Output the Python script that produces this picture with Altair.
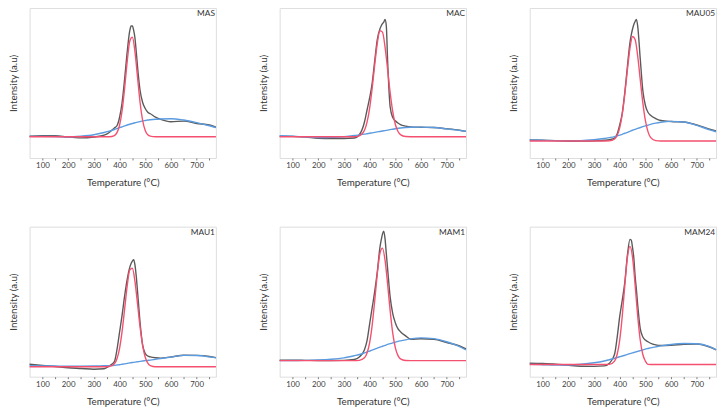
import altair as alt
import pandas as pd

# temperature grids (°C)
temps_fit = [50, 100, 150, 200, 250, 300, 340, 360, 380, 390, 400, 410, 420, 430, 440,
             450, 460, 470, 480, 490, 500, 510, 520, 540, 560, 600, 650, 700, 750, 775]
temps_obs = [50, 100, 150, 200, 250, 300, 340, 360, 380, 390, 400, 410, 420, 430, 440, 445,
             450, 455, 460, 465, 470, 480, 490, 500, 510, 520, 540, 560, 600, 650, 700, 750, 775]

samples = ["MAS", "MAC", "MAU05", "MAU1", "MAM1", "MAM24"]

# measured signal (black), on temps_obs
total_MAS = [14.6, 14.8, 14.9, 13.9, 13.4, 14.0, 15.2, 17.0, 20.0, 21.5, 27.0, 37.0, 53.0, 71.0, 85.0, 88.0,
             88.0, 85.0, 80.0, 71.0, 61.0, 45.0, 37.0, 33.0, 30.5, 29.5, 27.2, 25.8, 24.2, 24.6, 23.0, 22.0, 20.5]
total_MAC = [14.6, 14.4, 14.0, 13.2, 13.0, 13.0, 13.3, 15.5, 24.0, 32.0, 40.0, 50.0, 65.0, 79.0, 86.0, 88.0,
             89.5, 90.5, 92.3, 88.0, 65.0, 34.0, 27.0, 24.8, 23.3, 22.3, 21.3, 20.7, 20.5, 20.3, 19.5, 18.5, 17.8]
total_MAU05 = [12.0, 11.8, 11.6, 11.2, 11.3, 11.5, 11.8, 12.2, 13.2, 16.0, 22.0, 30.0, 44.0, 61.0, 77.0, 82.0,
               86.0, 89.0, 91.0, 92.4, 88.0, 66.0, 45.0, 35.0, 30.5, 28.5, 26.3, 25.0, 24.3, 24.0, 22.0, 19.2, 18.0]
total_MAU1 = [8.3, 7.5, 6.8, 6.0, 5.5, 5.0, 5.3, 7.2, 10.0, 18.0, 29.5, 41.0, 54.0, 65.0, 73.0, 75.5,
              77.0, 78.0, 74.5, 67.0, 57.0, 36.0, 21.0, 15.5, 13.8, 13.2, 12.6, 12.4, 13.2, 14.3, 14.2, 13.5, 12.7]
total_MAM1 = [11.0, 11.0, 10.9, 10.8, 10.8, 10.9, 11.5, 13.2, 18.0, 24.0, 35.0, 46.0, 57.0, 70.0, 86.0, 91.0,
              95.0, 97.0, 92.0, 82.0, 72.0, 53.0, 42.0, 36.0, 32.0, 30.0, 27.2, 25.0, 25.3, 25.0, 22.8, 20.5, 18.5]
total_MAM24 = [9.0, 8.8, 8.4, 7.6, 7.0, 6.9, 7.2, 9.0, 15.0, 26.0, 40.0, 51.0, 63.0, 81.0, 91.5, 91.0,
               86.0, 79.0, 67.0, 58.0, 48.0, 32.0, 26.5, 24.4, 23.3, 22.3, 21.2, 20.8, 21.0, 21.6, 21.8, 19.8, 17.9]

# fitted low-temperature peak (red), on temps_fit
peak_MAS = [14.2, 14.2, 14.2, 14.2, 14.2, 14.2, 14.2, 14.2, 15.0, 16.9, 21.8, 31.5, 46.8, 64.6, 78.0,
            80.6, 70.9, 53.9, 37.0, 25.0, 18.4, 15.5, 14.6, 14.2, 14.2, 14.2, 14.2, 14.2, 14.2, 14.2]
peak_MAC = [14.2, 14.2, 14.2, 14.2, 14.2, 14.2, 14.2, 14.8, 18.5, 23.9, 33.1, 46.5, 62.3, 76.6, 84.8,
            83.9, 74.1, 59.1, 43.5, 30.9, 22.5, 17.8, 15.6, 14.3, 14.2, 14.2, 14.2, 14.2, 14.2, 14.2]
peak_MAU05 = [11.3, 11.3, 11.3, 11.3, 11.3, 11.3, 11.3, 11.4, 12.7, 15.0, 20.1, 29.2, 42.7, 58.8, 73.3,
              81.0, 79.0, 68.0, 52.2, 36.8, 25.0, 17.6, 13.8, 11.6, 11.3, 11.3, 11.3, 11.3, 11.3, 11.3]
peak_MAU1 = [6.6, 6.6, 6.6, 6.6, 6.6, 6.6, 6.6, 6.8, 8.6, 12.0, 18.8, 30.2, 45.3, 60.8, 71.2,
             72.3, 63.5, 48.6, 33.0, 20.7, 13.0, 9.1, 7.4, 6.6, 6.6, 6.6, 6.6, 6.6, 6.6, 6.6]
peak_MAM1 = [10.7, 10.7, 10.7, 10.7, 10.7, 10.7, 10.7, 10.9, 12.6, 15.8, 22.6, 34.4, 50.9, 68.7, 82.1,
             85.7, 77.7, 61.8, 43.9, 29.0, 19.4, 14.2, 11.9, 10.8, 10.7, 10.7, 10.7, 10.7, 10.7, 10.7]
peak_MAM24 = [8.1, 8.1, 8.1, 8.1, 8.1, 8.1, 8.1, 8.2, 10.4, 14.8, 24.3, 40.5, 61.2, 79.5, 86.9,
              79.5, 61.2, 40.5, 24.3, 14.8, 10.4, 8.2, 8.1, 8.1, 8.1, 8.1, 8.1, 8.1, 8.1, 8.1]

# fitted broad high-temperature component (blue), on temps_fit
broad_MAS = [14.4, 14.4, 14.3, 14.0, 14.5, 15.5, 17.0, 17.9, 19.0, 19.6, 20.2, 20.8, 21.4, 22.0, 22.5,
             23.0, 23.5, 23.9, 24.3, 24.7, 25.0, 25.3, 25.5, 25.8, 26.0, 26.2, 25.3, 23.6, 21.5, 20.2]
broad_MAC = [14.8, 14.6, 14.0, 13.6, 13.8, 14.2, 15.0, 15.4, 15.9, 16.2, 16.5, 16.8, 17.1, 17.4, 17.7,
             18.0, 18.3, 18.6, 18.9, 19.2, 19.5, 19.8, 20.0, 20.3, 20.5, 20.6, 20.3, 19.4, 18.4, 17.8]
broad_MAU05 = [12.0, 11.8, 11.6, 11.5, 11.6, 12.2, 13.0, 13.6, 14.3, 14.8, 15.3, 15.8, 16.5, 17.1, 17.8,
               18.5, 19.1, 19.7, 20.3, 20.9, 21.4, 21.9, 22.4, 23.2, 23.8, 24.4, 24.0, 21.7, 18.8, 17.5]
broad_MAU1 = [7.4, 7.2, 7.1, 7.0, 7.0, 7.1, 7.3, 7.4, 7.6, 7.8, 8.0, 8.3, 8.6, 8.9, 9.2,
              9.5, 9.7, 10.0, 10.2, 10.5, 10.7, 10.9, 11.1, 11.6, 12.1, 13.1, 14.2, 14.1, 13.2, 12.6]
broad_MAM1 = [10.7, 10.8, 10.9, 11.1, 11.6, 12.6, 14.0, 14.8, 15.9, 16.5, 17.1, 17.7, 18.4, 19.0, 19.7,
              20.3, 20.9, 21.5, 22.0, 22.5, 23.0, 23.5, 23.9, 24.6, 25.2, 25.9, 25.4, 23.3, 20.1, 17.8]
broad_MAM24 = [8.2, 8.0, 7.7, 7.8, 8.3, 9.3, 10.5, 11.3, 12.3, 12.8, 13.3, 13.8, 14.3, 14.9, 15.4,
               15.9, 16.4, 16.9, 17.4, 17.9, 18.4, 18.8, 19.2, 19.9, 20.6, 21.5, 22.1, 22.0, 20.0, 18.0]

x_ticks = [100, 150, 200, 250, 300, 350, 400, 450, 500, 550, 600, 650, 700, 750]

totals = [total_MAS, total_MAC, total_MAU05, total_MAU1, total_MAM1, total_MAM24]
peaks = [peak_MAS, peak_MAC, peak_MAU05, peak_MAU1, peak_MAM1, peak_MAM24]
broads = [broad_MAS, broad_MAC, broad_MAU05, broad_MAU1, broad_MAM1, broad_MAM24]

W, H = 190, 153
FONT = "Lato"


def panel(name, total, peak, broad):
    df_obs = pd.DataFrame({"T": temps_obs, "v": total})
    df_fit = pd.DataFrame({"T": temps_fit, "peak": peak, "broad": broad})
    xscale = alt.Scale(domain=[50, 775], nice=False, zero=False)
    xaxis = alt.Axis(values=x_ticks, labelExpr="datum.value % 100 == 0 ? datum.label : ''",
                     title="Temperature (°C)", grid=False, domain=False,
                     tickSize=2, tickColor="#777777", labelPadding=2, labelFontSize=8,
                     labelColor="#404040", titleFontSize=10, titleFontWeight="normal",
                     titleColor="#333333", titlePadding=8, labelFont=FONT, titleFont=FONT)
    yscale = alt.Scale(domain=[0, 100], nice=False)
    yaxis = alt.Axis(labels=False, ticks=False, domain=False, grid=False,
                     title="Intensity (a.u)", titleFontSize=10, titleFontWeight="normal",
                     titleColor="#333333", titlePadding=11, titleFont=FONT)
    tot = alt.Chart(df_obs).mark_line(color="#5a5a5a", strokeWidth=1.4, interpolate="monotone").encode(
        x=alt.X("T:Q", scale=xscale, axis=xaxis),
        y=alt.Y("v:Q", scale=yscale, axis=yaxis))
    br = alt.Chart(df_fit).mark_line(color="#5b9be0", strokeWidth=1.4, interpolate="monotone").encode(
        x=alt.X("T:Q", scale=xscale, axis=xaxis),
        y=alt.Y("broad:Q", scale=yscale, axis=yaxis))
    pk = alt.Chart(df_fit).mark_line(color="#f4506f", strokeWidth=1.4, interpolate="monotone").encode(
        x=alt.X("T:Q", scale=xscale, axis=xaxis),
        y=alt.Y("peak:Q", scale=yscale, axis=yaxis))
    lab = alt.Chart(pd.DataFrame({"label": [name]})).mark_text(
        align="right", baseline="top", fontSize=8.5, font=FONT, color="#333333").encode(
        x=alt.value(W - 1), y=alt.value(1), text="label:N")
    return alt.layer(tot, br, pk, lab).properties(width=W, height=H)


panels = [panel(n, t, p, b) for n, t, p, b in zip(samples, totals, peaks, broads)]
row1 = alt.hconcat(*panels[:3], spacing=39)
row2 = alt.hconcat(*panels[3:], spacing=39)
chart = alt.vconcat(row1, row2, spacing=38).properties(
    padding={"left": 0, "top": -5, "right": 0, "bottom": 0}
).configure_view(stroke="#7f7f7f", strokeWidth=1.2).configure(background="white")

chart.save("out.html", embed_options={"renderer": "svg", "actions": False})
